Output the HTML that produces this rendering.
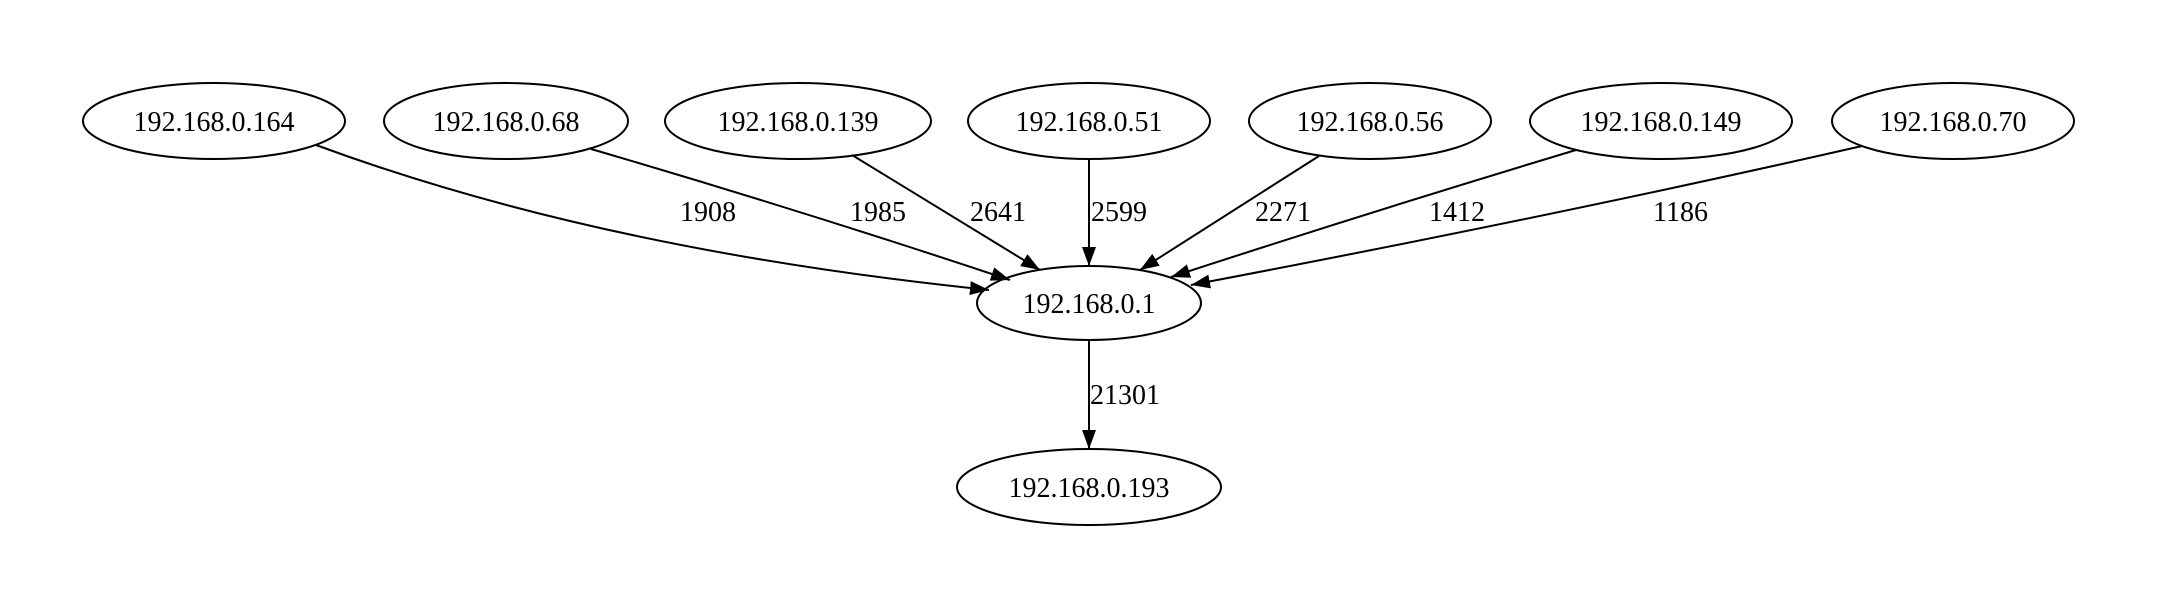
<!DOCTYPE html>
<html><head><style>
html,body{margin:0;padding:0;background:#fff;}
svg{display:block;}
text{font-family:"Liberation Serif","Times New Roman",serif;font-size:28px;fill:#000;}
</style></head><body>
<svg width="2158" height="608" viewBox="0 0 2158 608" xmlns="http://www.w3.org/2000/svg">
<defs>
<marker id="a" markerUnits="userSpaceOnUse" markerWidth="20" markerHeight="14" refX="19" refY="7" orient="auto">
<path d="M0,0 L19,7 L0,14 z" fill="#000"/>
</marker>
</defs>
<g fill="none" stroke="#000" stroke-width="2">
<ellipse cx="214" cy="121" rx="131" ry="38"/>
<ellipse cx="506" cy="121" rx="122" ry="38"/>
<ellipse cx="798" cy="121" rx="133" ry="38"/>
<ellipse cx="1089" cy="121" rx="121" ry="38"/>
<ellipse cx="1370" cy="121" rx="121" ry="38"/>
<ellipse cx="1661" cy="121" rx="131" ry="38"/>
<ellipse cx="1953" cy="121" rx="121" ry="38"/>
<ellipse cx="1089" cy="303" rx="112" ry="37"/>
<ellipse cx="1089" cy="487" rx="132" ry="38"/>
<path d="M316,145 Q600,250 989,290" marker-end="url(#a)"/>
<path d="M591,149 Q800,210 1010,280" marker-end="url(#a)"/>
<path d="M852,155 L1040,270" marker-end="url(#a)"/>
<path d="M1089,158 L1089,266" marker-end="url(#a)"/>
<path d="M1319,156 L1140,270" marker-end="url(#a)"/>
<path d="M1576,150 Q1370,212 1171,277" marker-end="url(#a)"/>
<path d="M1862,146 Q1560,215 1191,285" marker-end="url(#a)"/>
<path d="M1089,341 L1089,449" marker-end="url(#a)"/>
</g>
<g text-anchor="middle">
<text x="214" y="131">192.168.0.164</text>
<text x="506" y="131">192.168.0.68</text>
<text x="798" y="131">192.168.0.139</text>
<text x="1089" y="131">192.168.0.51</text>
<text x="1370" y="131">192.168.0.56</text>
<text x="1661" y="131">192.168.0.149</text>
<text x="1953" y="131">192.168.0.70</text>
<text x="1089" y="313">192.168.0.1</text>
<text x="1089" y="497">192.168.0.193</text>
</g>
<g>
<text x="680" y="221">1908</text>
<text x="850" y="221">1985</text>
<text x="970" y="221">2641</text>
<text x="1091" y="221">2599</text>
<text x="1255" y="221">2271</text>
<text x="1429" y="221">1412</text>
<text x="1653" y="221">1186</text>
<text x="1090" y="404">21301</text>
</g>
</svg>
</body></html>
